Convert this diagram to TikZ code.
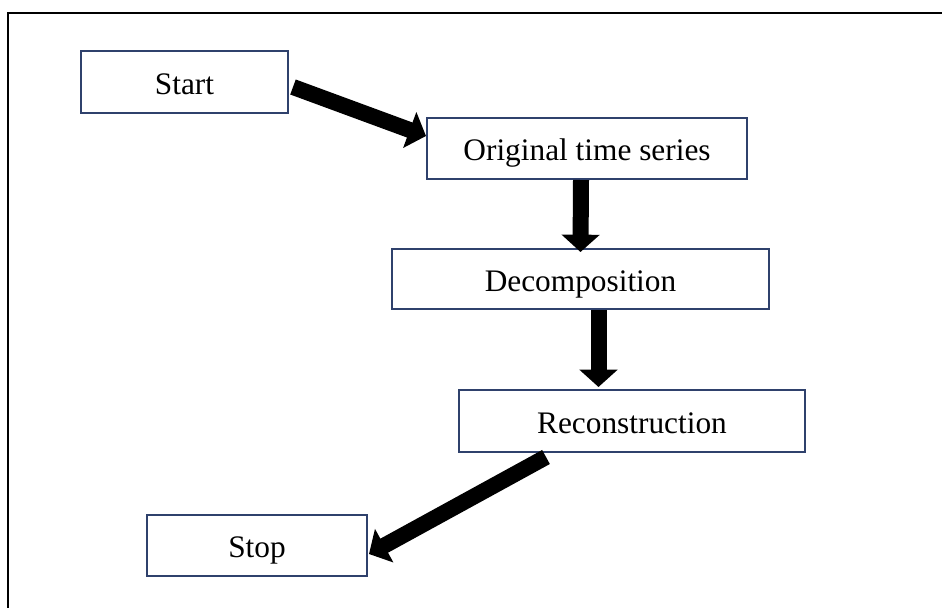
\documentclass[tikz,border=0pt]{standalone}
\usepackage{fontspec}
\setmainfont{Liberation Serif}
\usetikzlibrary{arrows.meta,calc}

\tikzset{every picture/.style={line width=0.75pt}}

\begin{document}
\begin{tikzpicture}[x=0.75pt,y=0.75pt,yscale=-1,xscale=1,
    flowbox/.style={draw={rgb, 255:red, 47; green, 65; blue, 108},line width=1.2pt,fill=white,inner sep=0pt,outer sep=0pt,
      font=\fontsize{23.5}{28}\selectfont,text height=22pt,text depth=3.6pt},
    blockarrow/.style={line width=12pt,-{Triangle[length=13pt,width=28pt]}}]
    \useasboundingbox (0,0) rectangle (942,608);

    %Frame
    \draw [line width=1.5pt] (942,13) -- (8,13) -- (8,608) ;

    %Rectangle: Start
    \node [flowbox,minimum width=155.25pt,minimum height=46.5pt] (start) at (184.5,82) {Start};
    %Rectangle: Original time series
    \node [flowbox,minimum width=240pt,minimum height=45.75pt] (orig) at (587,148.5) {Original time series};
    %Rectangle: Decomposition
    \node [flowbox,minimum width=282.75pt,minimum height=45pt] (decomp) at (580.5,279) {Decomposition};
    %Rectangle: Reconstruction
    \node [flowbox,minimum width=259.5pt,minimum height=46.5pt] (recon) at (632,421) {Reconstruction};
    %Rectangle: Stop
    \node [flowbox,minimum width=165pt,minimum height=45.75pt] (stop) at (257,545.5) {Stop};

    %Block Arrows
    \draw [blockarrow] ($(start.east)+(5,5)$) -- ($(orig.west)+(-1,-12.5)$) ;
    \draw [blockarrow] ($(orig.south)+(-6,1)$) -- ($(decomp.north)+(0,3)$) ;
    \draw [blockarrow] ($(decomp.south)+(18,1)$) -- ($(recon.north)+(-33.5,-3)$) ;
    \draw [blockarrow] ($(recon.south)+(-86,5)$) -- ($(stop.east)+(2,8.5)$) ;

\end{tikzpicture}
\end{document}
